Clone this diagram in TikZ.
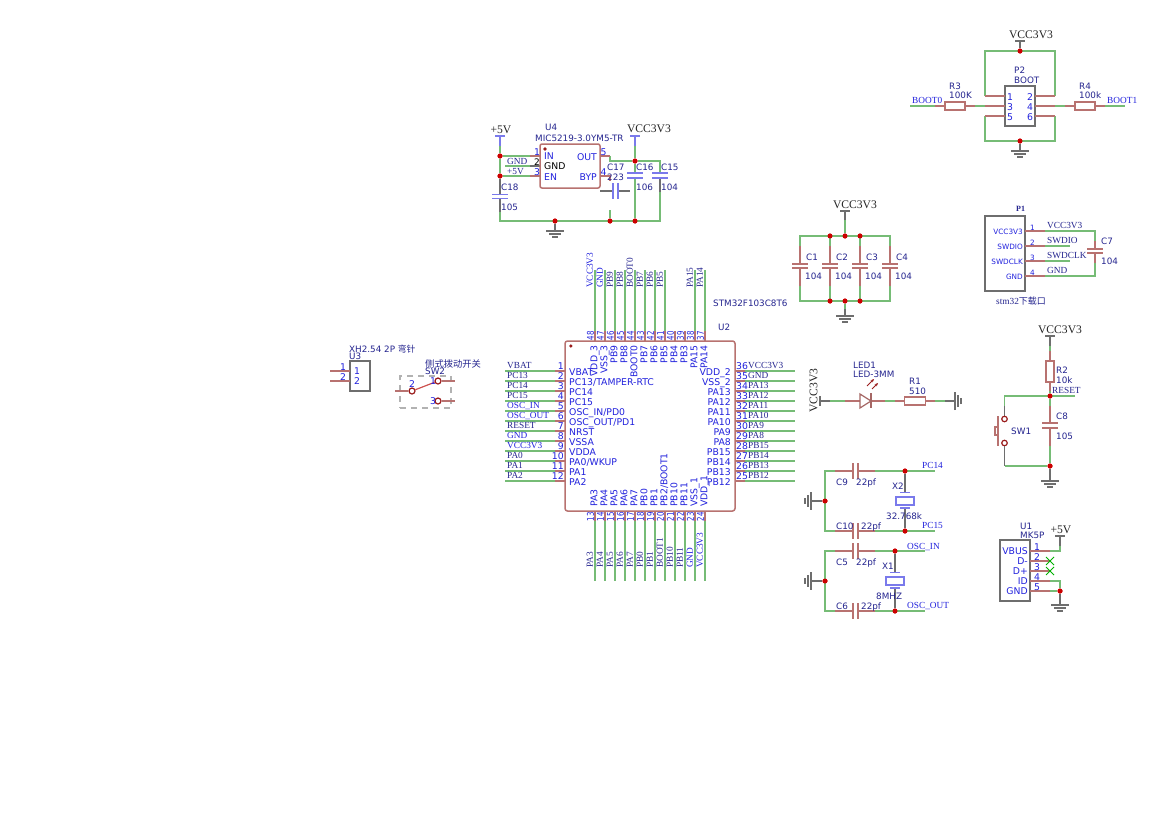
\documentclass[tikz,border=0pt]{standalone}
\usepackage{graphicx}
\usepackage{fontspec}
\setmainfont{DejaVu Sans}
\newfontfamily\ser{Liberation Serif}
\newfontfamily\cjk{Noto Sans CJK SC}
\usetikzlibrary{arrows.meta}
\definecolor{wirec}{HTML}{76BC76}
\definecolor{pinc}{HTML}{B87270}
\definecolor{grayc}{HTML}{6E6E6E}
\definecolor{bluec}{HTML}{2222DD}
\definecolor{navyc}{HTML}{25258F}
\definecolor{redc}{HTML}{CC0000}
\definecolor{dredc}{HTML}{9A1C1C}
\newcounter{tc}
\newcommand\Tx[4][]{\stepcounter{tc}\node[lab,#1] (t\thetc) at (#2,#3) {#4};}
\newcommand\Sn[4][]{\Tx[navy,font=\fontsize{8.8}{9}\selectfont,#1]{#2}{#3}{#4}}% navy sans
\newcommand\Sb[4][]{\Tx[blue,font=\fontsize{9.3}{9}\selectfont,#1]{#2}{#3}{#4}}% blue sans
\newcommand\Ns[4][]{\Tx[font=\ser\fontsize{9.3}{9}\selectfont,navyc,#1]{#2}{#3}{#4}}% serif net
\newcommand\Nb[4][]{\Tx[font=\ser\fontsize{9.3}{9}\selectfont,bluec,#1]{#2}{#3}{#4}}
\newcommand\Pw[3]{\Tx[font=\ser\fontsize{11.6}{11}\selectfont,black!85,anchor=center]{#1}{#2}{#3}}
\tikzset{
  x=1pt,y=-1pt,
  lab/.style={inner sep=0pt,text height=6.6pt,text depth=0pt,anchor=west},
  navy/.style={text=navyc},
  blue/.style={text=bluec},
  wire/.style={draw=wirec,line width=1.5pt,line join=miter},
  pinl/.style={draw=pinc,line width=1.5pt},
  stem/.style={draw=grayc,line width=1.5pt},
  plate/.style={draw=pinc,line width=1.5pt},
  bplate/.style={draw=bluec!60!white,line width=1.5pt},
  symb/.style={draw=grayc,line width=1.7pt},
  comp/.style={draw=pinc,line width=1.5pt,fill=white,rounded corners=1pt,inner sep=0pt},
  conn/.style={draw=grayc,line width=1.6pt,fill=white,inner sep=0pt},
  jn/.style={circle,fill=redc,inner sep=0pt,minimum size=5pt},
  sw/.style={circle,draw=dredc,line width=1.2pt,fill=white,inner sep=0pt,minimum size=6pt},
  gndpic/.pic={\draw[symb](-9,0)--(9,0) (-6,3)--(6,3) (-3,6)--(3,6);},
  vbar/.pic={\draw[symb](-5,0)--(5,0);},
  vbarb/.pic={\draw[bplate](-5,0)--(5,0);},
}
\begin{document}
\begin{tikzpicture}
\useasboundingbox (0,0) rectangle (1169,827);
\fill[white] (0,0) rectangle (1169,827);
%---------------- U2
\foreach \i/\p/\net/\st in {1/VBAT/VBAT/Ns,2/{PC13/TAMPER-RTC}/PC13/Ns,3/PC14/PC14/Ns,4/PC15/PC15/Ns,5/OSC\_IN{/}PD0/OSC\_IN/Nb,6/OSC\_OUT{/}PD1/OSC\_OUT/Nb,7/NRST/RESET/Ns,8/VSSA/GND/Nb,9/VDDA/VCC3V3/Nb,10/{PA0/WKUP}/PA0/Ns,11/PA1/PA1/Ns,12/PA2/PA2/Ns}{
  \pgfmathsetmacro\yy{361+10*\i}
  \coordinate (La\i) at (565,\yy); \coordinate (Lb\i) at (555,\yy); \coordinate (Lc\i) at (505,\yy);
  \draw[wire] (Lb\i)--(Lc\i); \draw[pinl] (La\i)--(Lb\i);
  \pgfmathsetmacro\yn{\yy-5}\pgfmathsetmacro\yt{\yy+1}\pgfmathsetmacro\yb{\yy-5.5}
  \Sb[anchor=east]{564}{\yn}{\i}
  \Sb{569}{\yt}{\p}
  \csname\st\endcsname{507}{\yb}{\net}
}
\foreach \i/\p/\net/\st in {36/VDD\_2/VCC3V3/Ns,35/VSS\_2/GND/Ns,34/PA13/PA13/Ns,33/PA12/PA12/Ns,32/PA11/PA11/Ns,31/PA10/PA10/Ns,30/PA9/PA9/Ns,29/PA8/PA8/Ns,28/PB15/PB15/Ns,27/PB14/PB14/Ns,26/PB13/PB13/Ns,25/PB12/PB12/Ns}{
  \pgfmathsetmacro\yy{371+10*(36-\i)}
  \coordinate (Ra\i) at (735,\yy); \coordinate (Rb\i) at (745,\yy); \coordinate (Rc\i) at (795,\yy);
  \draw[wire] (Rb\i)--(Rc\i); \draw[pinl] (Ra\i)--(Rb\i);
  \pgfmathsetmacro\yn{\yy-5}\pgfmathsetmacro\yt{\yy+1}\pgfmathsetmacro\yb{\yy-5.5}
  \Sb{736}{\yn}{\i}
  \Sb[anchor=east]{731}{\yt}{\p}
  \csname\st\endcsname{748}{\yb}{\net}
}
\foreach \i/\p/\net/\st/\w in {48/VDD\_3/VCC3V3/Nb/1,47/VSS\_3/GND/Nb/1,46/PB9/PB9/Ns/1,45/PB8/PB8/Ns/1,44/BOOT0/BOOT0/Ns/1,43/PB7/PB7/Ns/1,42/PB6/PB6/Ns/1,41/PB5/PB5/Ns/1,40/PB4/{}/Ns/0,39/PB3/{}/Ns/0,38/PA15/PA15/Ns/1,37/PA14/PA14/Ns/1}{
  \pgfmathsetmacro\xx{595+10*(48-\i)}
  \coordinate (Ta\i) at (\xx,341); \coordinate (Tb\i) at (\xx,331); \coordinate (Tc\i) at (\xx,270);
  \ifnum\w=1 \draw[wire] (Tb\i)--(Tc\i); \fi
  \draw[pinl] (Ta\i)--(Tb\i);
  \pgfmathsetmacro\xn{\xx-4.5}\pgfmathsetmacro\xt{\xx-1}\pgfmathsetmacro\xb{\xx-5.5}
  \Sb[rotate=90,anchor=center]{\xn}{335.5}{\scalebox{.76}[1]{\i}}
  \Sb[rotate=90,anchor=east]{\xt}{345}{\p}
  \ifnum\w=1 \csname\st\endcsname[rotate=90,anchor=west]{\xb}{288}{\net}\fi
}
\foreach \i/\p/\net/\st in {13/PA3/PA3/Ns,14/PA4/PA4/Ns,15/PA5/PA5/Ns,16/PA6/PA6/Ns,17/PA7/PA7/Ns,18/PB0/PB0/Ns,19/PB1/PB1/Ns,20/{PB2/BOOT1}/BOOT1/Ns,21/PB10/PB10/Ns,22/PB11/PB11/Ns,23/VSS\_1/GND/Nb,24/VDD\_1/VCC3V3/Nb}{
  \pgfmathsetmacro\xx{595+10*(\i-13)}
  \coordinate (Ba\i) at (\xx,511); \coordinate (Bb\i) at (\xx,521); \coordinate (Bc\i) at (\xx,581);
  \draw[wire] (Bb\i)--(Bc\i); \draw[pinl] (Ba\i)--(Bb\i);
  \pgfmathsetmacro\xn{\xx-4.5}\pgfmathsetmacro\xt{\xx-1}\pgfmathsetmacro\xb{\xx-5.5}
  \Sb[rotate=90,anchor=center]{\xn}{516.5}{\scalebox{.76}[1]{\i}}
  \Sb[rotate=90,anchor=west]{\xt}{507}{\p}
  \csname\st\endcsname[rotate=90,anchor=west]{\xb}{568}{\net}
}
\node[draw=pinc,line width=1.5pt,rounded corners=2.5pt,minimum width=170pt,minimum height=170pt,inner sep=0pt] (U2) at (650,426) {};
\fill[dredc] (570.8,346) circle (1.8pt);
\Sn{713}{303}{STM32F103C8T6}
\Sn{718}{327}{U2}
%---------------- U4
\coordinate (iu) at (530,156); \coordinate (ig) at (530,166); \coordinate (ie) at (530,176);
\coordinate (igw) at (505,166);
\node[jn] (j5a) at (500,156) {}; \node[jn] (j5b) at (500,176) {};
\coordinate (p5t) at (500,136); \coordinate (p5m) at (500,146);
\coordinate (c18t) at (500,194.5); \coordinate (c18b) at (500,198.5); \coordinate (c18g) at (500,212);
\coordinate (bl) at (500,221); \coordinate (br) at (660,221);
\node[jn] (jg1) at (555,221) {}; \node[jn] (jg2) at (610,221) {}; \node[jn] (jg3) at (635,221) {};
\coordinate (o1) at (600,156); \coordinate (o2) at (610,156); \coordinate (o3) at (610,161);
\node[jn] (jv) at (635,161) {}; \coordinate (c15t) at (660,161);
\coordinate (v3t) at (635,136); \coordinate (v3m) at (635,146);
\draw[wire] (j5a)--(iu) (igw)--(ig) (j5b)--(ie);
\draw[wire] (p5m)--(j5a)--(j5b);
\draw[bplate] (p5t)--(p5m);
\pic at (p5t) {vbarb};
\draw[stem] (j5b)--(c18t);
\draw[bplate] (492,194.5)--(508,194.5) (492,198.5)--(508,198.5);
\draw[stem] (c18b)--(c18g);
\draw[wire] (c18g)--(bl)--(br)--(660,192);
\draw[stem] (660,192)--(660,178);
\draw[wire] (660,173)--(c15t)--(jv);
\draw[wire] (o2)--(o3)--(jv);
\draw[pinl] (o1)--(o2);
\draw[wire] (v3m)--(jv);
\draw[bplate] (v3t)--(v3m);
\pic at (v3t) {vbarb};
\draw[wire] (jv)--(635,173) (635,178)--(jg3);
\draw[bplate] (627,173)--(643,173) (627,178)--(643,178) (652,173)--(668,173) (652,178)--(668,178);
\draw[pinl] (iu)--(540,156) (ie)--(540,176);
\draw[stem] (ig)--(540,166);
\draw[pinl] (600,176)--(610,176)--(610,181);
\draw[stem] (600,191)--(613,191) (618,191)--(630,191);
\draw[bplate] (613,183)--(613,199) (618,183)--(618,199);
\draw[wire] (610,210)--(jg2);
\draw[stem] (jg1)--(555,231);
\pic at (555,231) {gndpic};
\node[comp,rounded corners=2pt,minimum width=60pt,minimum height=44pt] (U4) at (570,166) {};
\fill[dredc] (545,149) circle (1.8pt);
\node[jn] at (j5a) {}; \node[jn] at (j5b) {}; \node[jn] at (jv) {};
\node[jn] at (jg1) {}; \node[jn] at (jg2) {}; \node[jn] at (jg3) {};
\Pw{501}{130}{+5V}
\Pw{649}{129}{VCC3V3}
\Sn{545}{127}{U4}
\Sn{535}{138}{MIC5219-3.0YM5-TR}
\Sb{534}{152}{1}
\Tx[font=\fontsize{9}{9}\selectfont]{534}{162}{2}
\Sb{534}{172}{3}
\Sb{600.5}{152}{5}
\Sb{600.5}{172}{4}
\Sb{544}{156.5}{IN}
\Tx[font=\fontsize{9.3}{9}\selectfont]{544}{166.5}{GND}
\Sb{544}{177}{EN}
\Sb[anchor=east]{597}{157}{OUT}
\Sb[anchor=east]{597}{177}{BYP}
\Ns{507}{161}{GND}
\Ns{507}{171}{+5V}
\Sn{501}{187}{C18}
\Sn{501}{207}{105}
\Sn{607}{167}{C17}
\Sn{607}{177}{223}
\Sn{636}{167}{C16}
\Sn{636}{187}{106}
\Sn{661}{167}{C15}
\Sn{661}{187}{104}
%---------------- U3
\coordinate (u3a) at (330,371); \coordinate (u3b) at (330,381);
\node[conn,minimum width=20pt,minimum height=30pt] (U3) at (360,376) {};
\draw[pinl] (u3a)--(350,371) (u3b)--(350,381);
\Sn{349}{349}{XH2.54 2P {\cjk 弯针}}
\Sn{349}{356}{U3}
\Sb{340}{367}{1}
\Sb{340}{377}{2}
\Sb{354}{371.5}{1}
\Sb{354}{381.5}{2}
%---------------- SW2
\node[draw=black!30,dash pattern=on 6pt off 5pt,line width=1.5pt,minimum width=51pt,minimum height=32pt,inner sep=0pt] (SW2) at (425.5,392) {};
\node[sw] (s2) at (412,391) {}; \node[sw] (s1) at (438,381) {}; \node[sw] (s3) at (438,401) {};
\coordinate (s2e) at (395,391); \coordinate (s1e) at (455,381); \coordinate (s3e) at (455,401);
\draw[pinl] (s2e)--(s2) (s1)--(s1e) (s3)--(s3e);
\draw[pinc!70!red,line width=1.2pt] (s2)--(s1);
\Sn[font=\cjk\fontsize{9.3}{9}\selectfont]{425}{364}{侧式拨动开关}
\Sn{425}{371}{SW2}
\Sb{409}{384}{2}
\Sb{430}{381}{1}
\Sb{430}{401}{3}
%---------------- P2
\node[conn,minimum width=30pt,minimum height=40pt] (P2) at (1020,106) {};
\node[jn] (jp2t) at (1020,51) {}; \node[jn] (jp2b) at (1020,141) {};
\coordinate (p2a) at (985,96); \coordinate (p2b) at (1055,96);
\coordinate (p2c) at (985,106); \coordinate (p2d) at (1055,106);
\coordinate (p2e) at (985,116); \coordinate (p2f) at (1055,116);
\draw[wire] (p2a)--(985,51)--(1055,51)--(p2b);
\draw[wire] (p2e)--(985,141)--(1055,141)--(p2f);
\draw[pinl] (p2a)--(1005,96) (p2c)--(1005,106) (p2e)--(1005,116) (p2b)--(1035,96) (p2d)--(1035,106) (p2f)--(1035,116);
\coordinate (v2) at (1020,41);
\draw[stem] (jp2t)--(v2); \pic at (v2) {vbar};
\draw[stem] (jp2b)--(1020,151); \pic at (1020,151) {gndpic};
\node[jn] at (jp2t) {}; \node[jn] at (jp2b) {};
\node[comp,rounded corners=0pt,minimum width=20pt,minimum height=8pt] (R3) at (955,106) {};
\node[comp,rounded corners=0pt,minimum width=20pt,minimum height=8pt] (R4) at (1085,106) {};
\draw[wire] (p2c)--(975,106) (910,106)--(935,106);
\draw[pinl] (975,106)--(R3) (R3)--(935,106);
\draw[wire] (p2d)--(1065,106) (1105,106)--(1125,106);
\draw[pinl] (1065,106)--(R4) (R4)--(1105,106);
\Pw{1031}{35}{VCC3V3}
\Sn{1014}{70}{P2}
\Sn{1014}{80}{BOOT}
\foreach \yy/\n/\m in {97/1/2,107/3/4,117/5/6}{\Sb{1007}{\yy}{\n}\Sb{1027}{\yy}{\m}}
\Sn{949}{86}{R3}\Sn{949}{95}{100K}
\Sn{1079}{86}{R4}\Sn{1079}{95}{100k}
\Nb{912}{100}{BOOT0}
\Nb{1107}{100}{BOOT1}
%---------------- C1-C4
\node[jn] (jc1) at (830,236) {}; \node[jn] (jc2) at (845,236) {}; \node[jn] (jc3) at (860,236) {};
\node[jn] (jc4) at (830,301) {}; \node[jn] (jc5) at (845,301) {}; \node[jn] (jc6) at (860,301) {};
\draw[wire] (800,246)--(800,236)--(890,236)--(890,246);
\draw[wire] (800,286)--(800,301)--(890,301)--(890,286);
\foreach \xx/\n/\lx in {800/C1/806,830/C2/836,860/C3/866,890/C4/896}{
  \draw[wire] (\xx,236)--(\xx,246) (\xx,286)--(\xx,301);
  \draw[pinl] (\xx,246)--(\xx,264) (\xx,268)--(\xx,286);
  \draw[plate] (\xx-8,264)--(\xx+8,264) (\xx-8,268)--(\xx+8,268);
  \Sn{\lx}{257}{\n}\Sn{\lx-1}{276.5}{104}
}
\coordinate (v1) at (845,211);
\draw[wire] (jc2)--(845,220); \draw[stem] (845,220)--(v1); \pic at (v1) {vbar};
\draw[wire] (jc5)--(845,309); \draw[stem] (845,309)--(845,316); \pic at (845,316) {gndpic};
\foreach \a in {jc1,jc2,jc3,jc4,jc5,jc6}{\node[jn] at (\a) {};}
\Pw{855}{205}{VCC3V3}
%---------------- P1
\node[conn,minimum width=40pt,minimum height=75pt] (P1) at (1005,253.5) {};
\foreach \yy/\n/\nm in {231/1/VCC3V3,246/2/SWDIO,261/3/SWDCLK,276/4/GND}{
  \draw[pinl] (1025,\yy)--(1045,\yy);
  \Tx[blue,font=\fontsize{7.3}{7}\selectfont,anchor=east]{1023}{\yy}{\nm}
  \Tx[blue,font=\fontsize{7.3}{7}\selectfont]{1030}{\yy-4}{\n}
  \Ns{1047}{\yy-6}{\nm}
}
\draw[wire] (1045,246)--(1070,246) (1045,261)--(1070,261);
\draw[wire] (1045,231)--(1095,231)--(1095,241) (1095,263)--(1095,276)--(1045,276);
\draw[pinl] (1095,241)--(1095,249) (1095,253)--(1095,263);
\draw[plate] (1087,249)--(1103,249) (1087,253)--(1103,253);
\Sn{1101}{241}{C7}\Sn{1101}{261}{104}
\Tx[navy,font=\ser\bfseries\fontsize{8}{8}\selectfont]{1016}{208}{P1}
\Tx[navy,font=\ser\fontsize{9.3}{9}\selectfont]{996}{301}{stm32{\cjk\fontsize{9}{9}\selectfont 下载口}}
%---------------- LED
\coordinate (lv) at (820,401);
\draw[symb] (820,396)--(820,406);
\draw[stem] (lv)--(830,401);
\draw[wire] (830,401)--(845,401);
\draw[pinl] (845,401)--(860,401) (871,401)--(885,401);
\draw[pinc!90!black,line width=1.2pt,fill=white] (860,394)--(871,401)--(860,408)--cycle;
\draw[pinc!90!black,line width=1.5pt] (871,393)--(871,408);
\draw[dredc,line width=.9pt,-{Stealth[length=3.5pt,width=3pt]}] (867,386)--(874,379);
\draw[dredc,line width=.9pt,-{Stealth[length=3.5pt,width=3pt]}] (872,389)--(878,383);
\node[comp,rounded corners=0pt,minimum width=21pt,minimum height=8pt] (R1) at (915,401) {};
\draw[wire] (885,401)--(895,401) (935,401)--(945,401);
\draw[pinl] (895,401)--(R1) (R1)--(935,401);
\draw[stem] (945,401)--(955,401);
\pic[rotate=90] at (955,401) {gndpic};
\Tx[rotate=90,anchor=center,font=\ser\fontsize{11.6}{11}\selectfont,black!85]{814}{390.5}{VCC3V3}
\Sn{853}{365}{LED1}\Sn{853}{374}{LED-3MM}
\Sn{909}{381}{R1}\Sn{909}{391}{510}
%---------------- RESET
\node[comp,rounded corners=0pt,minimum width=8pt,minimum height=21pt] (R2) at (1050,371.5) {};
\node[jn] (jr) at (1050,396) {}; \node[jn] (jrb) at (1050,466) {};
\coordinate (v4) at (1050,336);
\draw[stem] (v4)--(1050,346); \pic at (v4) {vbar};
\draw[wire] (1050,346)--(1050,351);
\draw[pinl] (1050,351)--(R2) (R2)--(1050,391);
\draw[wire] (1050,391)--(jr);
\draw[wire] (1075,396)--(1004.5,396)--(1004.5,406);
\draw[stem] (1004.5,406)--(1004.5,416);
\draw[wire] (jr)--(1050,406) (1050,446)--(jrb);
\draw[pinl] (1050,406)--(1050,423) (1050,428)--(1050,446);
\draw[plate] (1042,423)--(1058,423) (1042,428)--(1058,428);
\node[sw,minimum size=5.5pt] (b1) at (1004.5,419) {}; \node[sw,minimum size=5.5pt] (b2) at (1004.5,443) {};
\coordinate (b2d) at (1004.5,466);
\draw[stem] (b2)--(b2d);
\draw[wire] (b2d)--(jrb);
\draw[pinc,line width=1.7pt] (998,416)--(998,446);
\draw[pinc,line width=1.2pt] (998,427)--(995,427)--(995,435)--(998,435);
\draw[stem] (jrb)--(1050,481); \pic at (1050,481) {gndpic};
\node[jn] at (jr) {}; \node[jn] at (jrb) {};
\Pw{1060}{330}{VCC3V3}
\Sn{1056}{370}{R2}\Sn{1056}{380}{10k}
\Ns{1052}{390}{RESET}
\Sn{1056}{416}{C8}\Sn{1056}{436}{105}
\Sn{1011}{431}{SW1}
%---------------- crystals
\foreach \yt/\yb/\xj/\xe/\lt/\lb/\cname/\cval/\cnx/\cvx in {
 471/531/905/935/C9/C10/X2/32.768k/892/886,
 551/611/895/925/C5/C6/X1/8MHZ/882/876}{
  \pgfmathsetmacro\ym{(\yt+\yb)/2}
  \node[jn] (jL\yt) at (825,\ym) {};
  \node[jn] (jT\yt) at (\xj,\yt) {};
  \node[jn] (jB\yt) at (\xj,\yb) {};
  \draw[wire] (835,\yt)--(825,\yt)--(825,\yb)--(835,\yb);
  \draw[stem] (jL\yt)--(811,\ym);
  \pic[rotate=-90] at (811,\ym) {gndpic};
  \foreach \yy in {\yt,\yb}{
    \draw[pinl] (835,\yy)--(853,\yy) (858,\yy)--(875,\yy);
    \draw[plate] (853,\yy-8)--(853,\yy+8) (858,\yy-8)--(858,\yy+8);
    \draw[wire] (875,\yy)--(\xe,\yy);
  }
  \draw[stem] (jT\yt)--(\xj,\yt+21) (\xj,\yt+37)--(jB\yt);
  \draw[bplate] (\xj-5,\yt+21.5)--(\xj+5,\yt+21.5) (\xj-5,\yt+37)--(\xj+5,\yt+37);
  \draw[bplate,fill=white] (\xj-9,\yt+26)--(\xj+9,\yt+26)--(\xj+9,\yt+34)--(\xj-9,\yt+34)--cycle;
  \node[jn] at (jL\yt) {}; \node[jn] at (jT\yt) {}; \node[jn] at (jB\yt) {};
  \Sn{836}{\yt+11}{\lt}\Sn{856}{\yt+11}{22pf}
  \Sn{836}{\yb-5}{\lb}\Sn{861}{\yb-5}{22pf}
  \Sn{\cnx}{\yt+15}{\cname}
  \Sn{\cvx}{\yt+45}{\cval}
}
\Nb{922}{465}{PC14}
\Nb{922}{525}{PC15}
\Nb{907}{546}{OSC\_IN}
\Nb{907}{605}{OSC\_OUT}
%---------------- U1
\node[conn,minimum width=30pt,minimum height=61pt] (U1) at (1015,570.5) {};
\foreach \yy/\n/\nm in {551/1/VBUS,561/2/D-,571/3/D+,581/4/ID,591/5/GND}{
  \draw[pinl] (1030,\yy)--(1050,\yy);
  \Sb[anchor=east]{1028}{\yy}{\nm}
  \Sb{1034}{\yy-4}{\n}
}
\node[jn] (ju1) at (1060,591) {};
\coordinate (v5) at (1060,536);
\draw[wire] (1050,551)--(1060,551)--(1060,546);
\draw[stem] (1060,546)--(v5); \pic at (v5) {vbar};
\draw[wire] (1050,581)--(1060,581)--(ju1)--(1050,591);
\draw[stem] (ju1)--(1060,605); \pic at (1060,605) {gndpic};
\node[jn] at (ju1) {};
\foreach \yy in {561,571}{\draw[green!70!black,line width=.9pt] (1046,\yy-4)--(1054,\yy+4) (1046,\yy+4)--(1054,\yy-4);}
\Pw{1061}{530}{+5V}
\Sn{1020}{526}{U1}\Sn{1020}{535}{MK5P}
\end{tikzpicture}
\end{document}
